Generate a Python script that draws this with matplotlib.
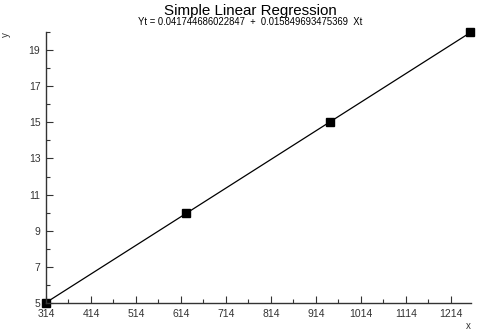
import matplotlib
matplotlib.use("Agg")
import matplotlib.pyplot as plt
from matplotlib.ticker import MultipleLocator, FixedLocator

plt.rcParams['font.family'] = ['Liberation Sans', 'DejaVu Sans']

# data
xs = [314, 626, 945, 1257]
ys = [5, 10, 15, 20]
intercept = 0.041744686022847
slope = 0.015849693475369
xticks = [314, 414, 514, 614, 714, 814, 914, 1014, 1114, 1214]
yticks = [5, 7, 9, 11, 13, 15, 17, 19]

fig = plt.figure(figsize=(5.0, 3.34), dpi=100)
ax = fig.add_axes([0.092, 0.093, 0.85, 0.811])

lineX = [xs[0], xs[-1]]
lineY = [intercept + slope * v for v in lineX]
ax.plot(lineX, lineY, color='black', linewidth=0.9, clip_on=False)
ax.plot(xs, ys, linestyle='none', marker='s', markersize=5.2, color='black', clip_on=False)

ax.set_xlim(xs[0], xs[-1] + 2)
ax.set_ylim(5, 20)

ax.xaxis.set_major_locator(FixedLocator(xticks))
ax.xaxis.set_minor_locator(FixedLocator([t + 50 for t in xticks]))
ax.yaxis.set_major_locator(FixedLocator(yticks))
ax.yaxis.set_minor_locator(MultipleLocator(1))

ax.tick_params(axis='both', which='both', direction='in', labelsize=7.5, colors='#333333')
ax.tick_params(axis='both', which='major', length=5, width=0.8)
ax.tick_params(axis='both', which='minor', length=3, width=0.8)
ax.tick_params(axis='x', pad=4.5)
ax.tick_params(axis='y', pad=4)

for side in ['top', 'right']:
    ax.spines[side].set_visible(False)
for side in ['left', 'bottom']:
    ax.spines[side].set_color('#333333')
    ax.spines[side].set_linewidth(1.0)

fig.text(0.5, 0.968, 'Simple Linear Regression', ha='center', va='center', fontsize=10.9)
fig.text(0.5, 0.933, 'Yt = 0.041744686022847  +  0.015849693475369  Xt', ha='center', va='center', fontsize=6.85)
fig.text(0.012, 0.897, 'y', rotation=90, ha='center', va='center', fontsize=7, color='#333333')
fig.text(0.937, 0.025, 'x', ha='center', va='center', fontsize=7, color='#333333')

fig.savefig('out.png', dpi=100)
